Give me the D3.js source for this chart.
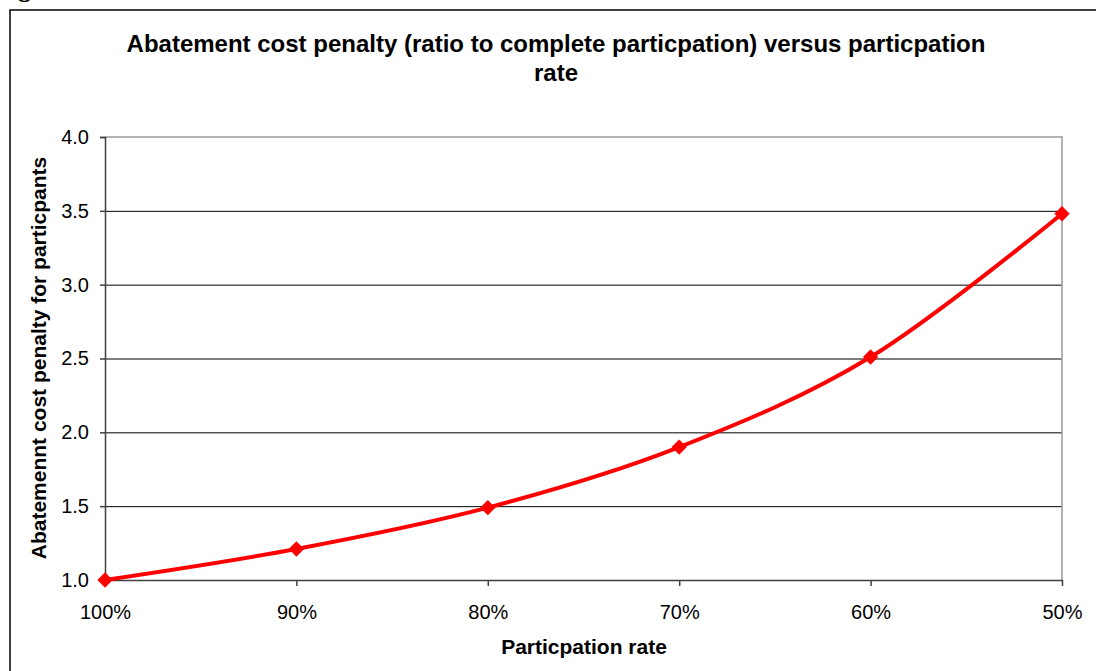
<!DOCTYPE html>
<html>
<head>
<meta charset="utf-8">
<script src="https://cdn.jsdelivr.net/npm/d3@7"></script>
<style>
  body { margin: 0; background: #fff; }
  svg { display: block; }
</style>
</head>
<body>
<div id="vis0"></div>
<script>
// Chart data.
const categories = ["100%", "90%", "80%", "70%", "60%", "50%"];
const penalty = [1.0, 1.21, 1.49, 1.90, 2.51, 3.48];
const yTicks = [1.0, 1.5, 2.0, 2.5, 3.0, 3.5, 4.0];

const W = 1096, H = 671;
const margin = {top: 137, right: 34, bottom: 91, left: 105},
  width = W - margin.left - margin.right,
  height = H - margin.top - margin.bottom;

const font = "Arial, 'Liberation Sans', sans-serif";

const svg = d3.select("#vis0")
  .append("svg")
    .attr("width", W)
    .attr("height", H);

// Caption clipped by the top edge, and the outer frame.
svg.append("text")
  .attr("x", -5)
  .attr("y", -3)
  .style("font-family", "'Liberation Serif', serif")
  .style("font-weight", "700")
  .style("font-size", "26px")
  .text("Figure");

svg.append("rect")
  .attr("x", 10)
  .attr("y", 10)
  .attr("width", W)
  .attr("height", H)
  .attr("fill", "none")
  .attr("stroke", "#000")
  .attr("stroke-width", 1.5);

const g = svg.append("g")
  .attr("transform", "translate(" + margin.left + "," + margin.top + ")");

const x = d3.scalePoint()
  .domain(categories)
  .range([0, width]);

const y = d3.scaleLinear()
  .domain([1, 4])
  .range([height, 0]);

// Gridlines.
g.append("g")
  .call(d3.axisLeft(y).tickValues(yTicks.slice(1, -1)).tickSize(-width).tickFormat(""))
  .call(a => a.select(".domain").remove())
  .selectAll("line")
    .attr("stroke", "#000")
    .attr("stroke-width", 1);

// Plot border (top and right).
g.append("path")
  .attr("d", "M0,0H" + width + "V" + height)
  .attr("fill", "none")
  .attr("stroke", "#999")
  .attr("stroke-width", 1.5);

// Y axis.
g.append("g")
  .call(d3.axisLeft(y).tickValues(yTicks).tickSize(5).tickPadding(11).tickFormat(d3.format(".1f")))
  .call(a => a.select(".domain").attr("stroke", "#404040").attr("stroke-width", 1.5))
  .call(a => a.selectAll("line").attr("stroke", "#404040").attr("stroke-width", 1.5))
  .selectAll("text")
    .style("font-family", font)
    .style("font-size", "20px")
    .attr("fill", "#000");

// X axis.
g.append("g")
  .attr("transform", "translate(0," + height + ")")
  .call(d3.axisBottom(x).tickSize(6).tickPadding(19).tickSizeOuter(0))
  .call(a => a.select(".domain").attr("stroke", "#404040").attr("stroke-width", 1.5))
  .call(a => a.selectAll("line").attr("stroke", "#404040").attr("stroke-width", 1.5))
  .selectAll("text")
    .style("font-family", font)
    .style("font-size", "20px")
    .attr("fill", "#000");

// The line.
g.append("path")
  .datum(penalty)
  .attr("d", d3.line()
    .x((d, i) => x(categories[i]))
    .y(d => y(d))
    .curve(d3.curveCardinal.tension(0))
  )
  .attr("fill", "none")
  .attr("stroke", "#ff0000")
  .attr("stroke-width", 4);

// Diamond markers.
g.selectAll(".marker")
  .data(penalty)
  .enter()
  .append("path")
    .attr("class", "marker")
    .attr("transform", (d, i) => "translate(" + x(categories[i]) + "," + y(d) + ")")
    .attr("d", d3.symbol().type(d3.symbolDiamond2).size(150))
    .attr("fill", "#ff0000");

// Title.
const title = svg.append("text")
  .attr("text-anchor", "middle")
  .style("font-family", font)
  .style("font-size", "24px")
  .style("font-weight", "700");
title.append("tspan").attr("x", 556).attr("y", 52)
  .text("Abatement cost penalty (ratio to complete particpation) versus particpation");
title.append("tspan").attr("x", 556).attr("y", 81)
  .text("rate");

// Axis titles.
svg.append("text")
  .attr("x", 584)
  .attr("y", 654)
  .attr("text-anchor", "middle")
  .style("font-family", font)
  .style("font-size", "21px")
  .style("font-weight", "700")
  .text("Particpation rate");

svg.append("text")
  .attr("transform", "translate(46,358) rotate(-90)")
  .attr("text-anchor", "middle")
  .style("font-family", font)
  .style("font-size", "21px")
  .style("font-weight", "700")
  .text("Abatemennt cost penalty for particpants");
</script>
</body>
</html>
